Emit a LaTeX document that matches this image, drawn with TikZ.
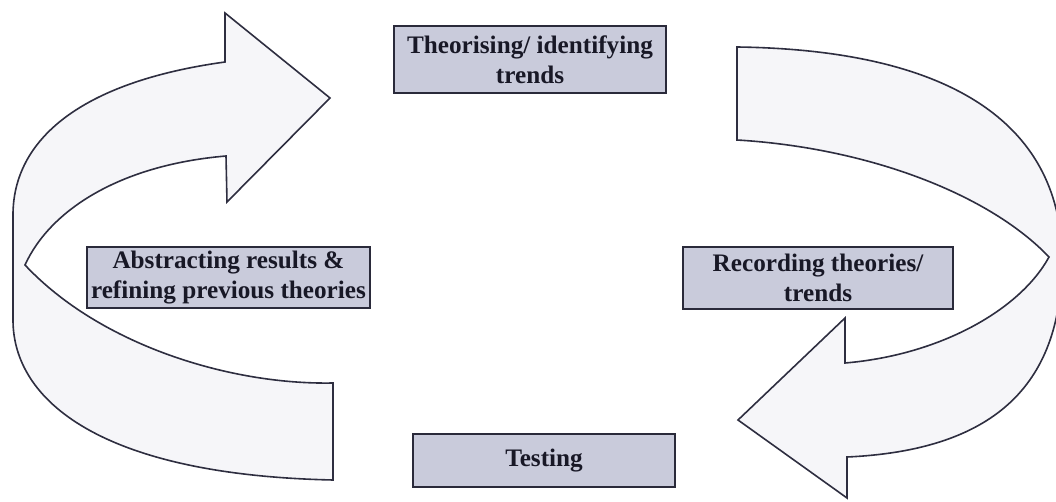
\documentclass[tikz,border=0pt]{standalone}
\usepackage{fontspec}
\setmainfont{Liberation Serif}
\definecolor{boxfill}{HTML}{C9CBDB}
\definecolor{boxline}{HTML}{2A2A3A}
\definecolor{arrowfill}{HTML}{F6F6F9}
\definecolor{arrowline}{HTML}{2E2E40}
\definecolor{inkcol}{HTML}{181826}
\tikzset{
  stagebox/.style={draw=boxline, line width=2.2pt, fill=boxfill, align=center,
    text=inkcol, inner sep=0pt,
    font=\fontsize{25.2}{30}\selectfont\bfseries},
  bentarrow/.style={draw=arrowline, line width=1.6pt, fill=arrowfill, line join=miter}
}
\begin{document}
\begin{tikzpicture}[x=1pt,y=-1pt]
\useasboundingbox (0,0) rectangle (1056,502);
\fill[white] (0,0) rectangle (1056,502);
\clip (0,0) rectangle (1056,502);

% curved arrow on the left, pointing up and to the right
\draw[bentarrow]
  (330,98) -- (225,13) -- (225,62)
  .. controls (80,82) and (13,140) .. (13,215)
  -- (13,320)
  .. controls (13,400) and (100,475) .. (333,480)
  -- (333,383)
  .. controls (230,385) and (100,345) .. (25,265)
  .. controls (50,210) and (120,165) .. (226,156)
  -- (227,202) -- cycle;

% curved arrow on the right, pointing down and to the left
\draw[bentarrow]
  (738,420) -- (845,318) -- (845,363)
  .. controls (940,355) and (1020,310) .. (1049,257)
  .. controls (990,195) and (870,148) .. (737,140)
  -- (737,47)
  .. controls (960,50) and (1062,130) .. (1062,260)
  .. controls (1062,380) and (1000,450) .. (847,457)
  -- (847,498) -- cycle;

% the four stages
\node[stagebox, minimum width=272pt, minimum height=67pt] (theory) at (530,59.5)
  {Theorising/ identifying\\trends};
\node[stagebox, minimum width=270pt, minimum height=62pt] (record) at (818,278)
  {Recording theories/\\trends};
\node[stagebox, minimum width=262pt, minimum height=53pt] (test) at (544,460.5)
  {Testing};
\node[stagebox, minimum width=283pt, minimum height=61pt] (abstract) at (228.5,277.5)
  {Abstracting results \&\\refining previous theories};
\end{tikzpicture}
\end{document}
